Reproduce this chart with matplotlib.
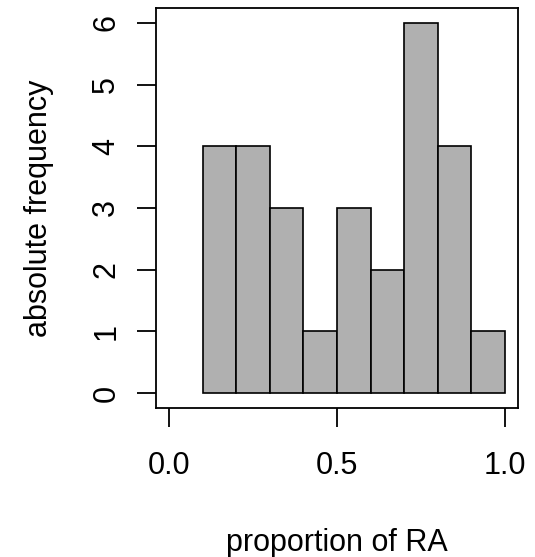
import numpy as np
import matplotlib
matplotlib.use("Agg")
import matplotlib.pyplot as plt

plt.rcParams['font.family'] = ['Liberation Sans', 'DejaVu Sans']

# histogram bins and counts
bin_edges = [0.1, 0.2, 0.3, 0.4, 0.5, 0.6, 0.7, 0.8, 0.9, 1.0]
counts = [4, 4, 3, 1, 3, 2, 6, 4, 1]
x_ticks = [0.0, 0.5, 1.0]
x_tick_labels = ["0.0", "0.5", "1.0"]
y_ticks = [0, 1, 2, 3, 4, 5, 6]

fig = plt.figure(figsize=(5.35, 5.57), dpi=100)
ax = fig.add_axes([156 / 535, 1 - 408 / 557, (518 - 156) / 535, (408 - 8) / 557])

lefts = np.array(bin_edges[:-1])
widths = np.diff(bin_edges)
ax.bar(lefts, counts, width=widths, align='edge', color='#b0b0b0',
       edgecolor='black', linewidth=1.2)

ax.set_xlim(-0.04, 1.04)
ax.set_ylim(-0.24, 6.24)
ax.set_xticks(x_ticks)
ax.set_xticklabels(x_tick_labels)
ax.set_yticks(y_ticks)
ax.set_yticklabels([str(v) for v in y_ticks], rotation=90, va='center')

for s in ax.spines.values():
    s.set_linewidth(1.3)
ax.tick_params(axis='both', length=14, width=1.3, labelsize=22, color='black')
ax.tick_params(axis='x', pad=17)
ax.tick_params(axis='y', pad=11)

ax.set_xlabel("proportion of RA", fontsize=22, labelpad=34)
ax.set_ylabel("absolute frequency", fontsize=22, labelpad=27)

fig.savefig("out.png", dpi=100)
